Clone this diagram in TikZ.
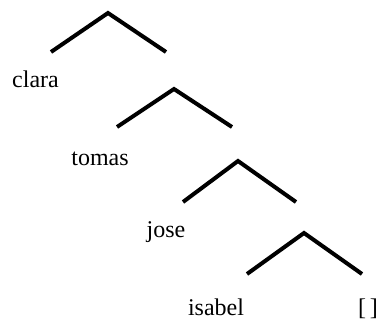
\documentclass[tikz,border=0pt]{standalone}
\usepackage{fontspec}
\setmainfont{Liberation Serif}
\begin{document}
\begin{tikzpicture}[x=1pt,y=-1pt,
  branch/.style={line width=4pt,line cap=butt,line join=miter},
  lbl/.style={anchor=base,inner sep=0pt,font=\fontsize{24}{28}\selectfont}]
\useasboundingbox (0,0) rectangle (380,320);
% tree 1
\coordinate (a1) at (108,13);
\coordinate (l1) at (51,52);
\coordinate (r1) at (166,52);
% tree 2
\coordinate (a2) at (174,89);
\coordinate (l2) at (117,127);
\coordinate (r2) at (232,127);
% tree 3
\coordinate (a3) at (238,161);
\coordinate (l3) at (183,202);
\coordinate (r3) at (296,202);
% tree 4
\coordinate (a4) at (304,233);
\coordinate (l4) at (247,274);
\coordinate (r4) at (362,274);
\draw[branch] (l1) -- (a1) -- (r1);
\draw[branch] (l2) -- (a2) -- (r2);
\draw[branch] (l3) -- (a3) -- (r3);
\draw[branch] (l4) -- (a4) -- (r4);
\node[lbl] (clara) at (35.5,88) {clara};
\node[lbl] (tomas) at (100,166) {tomas};
\node[lbl] (jose) at (166,238) {jose};
\node[lbl] (isabel) at (216,316) {isabel};
\node[lbl] (nil) at (368,316) {[\,]};
\end{tikzpicture}
\end{document}
